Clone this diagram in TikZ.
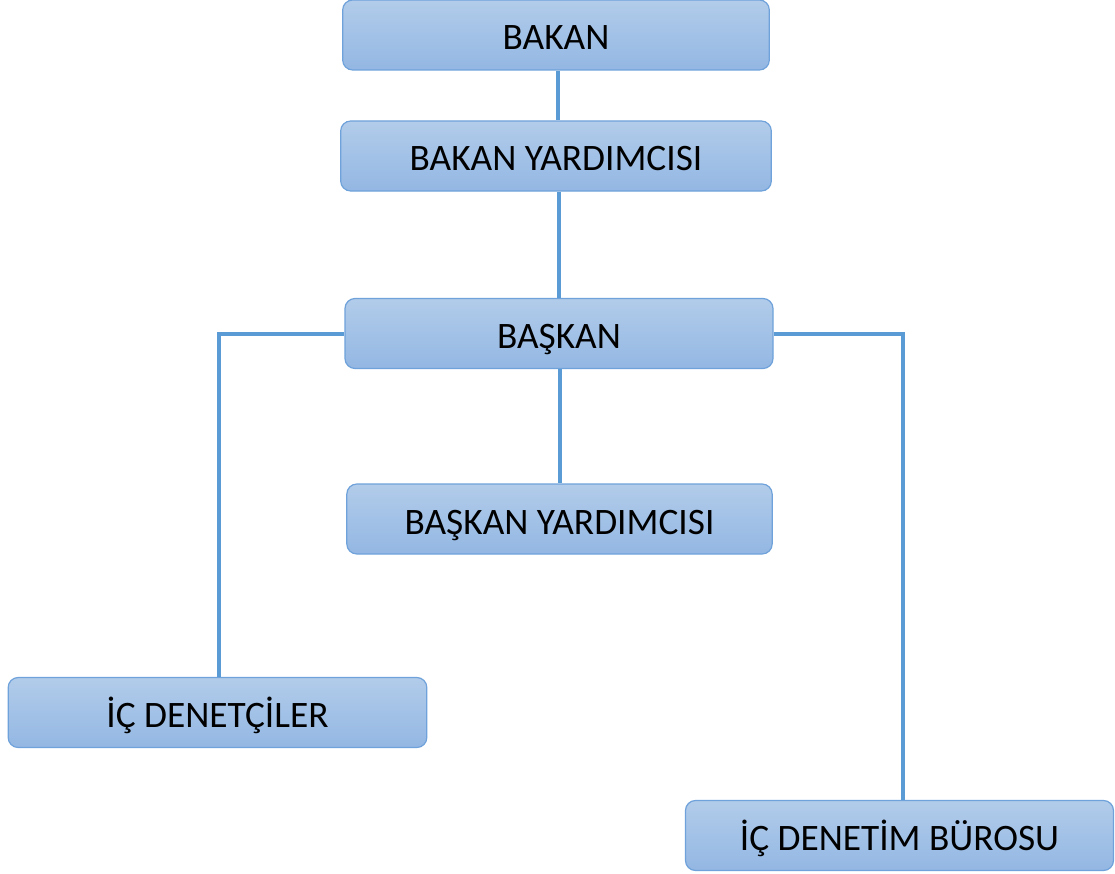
\documentclass[tikz,border=0pt]{standalone}
\usepackage{fontspec}
\setmainfont{Carlito}
\definecolor{boxtop}{HTML}{B2CCEA}
\definecolor{boxbottom}{HTML}{93B7E3}
\definecolor{boxline}{HTML}{6FA2DA}
\definecolor{linkcol}{HTML}{5B9BD5}
\tikzset{
  unit/.style={draw=boxline, line width=0.9pt, rounded corners=7.5pt,
    top color=boxtop, bottom color=boxbottom,
    minimum height=52.5pt, inner sep=0pt,
    text height=22.5pt, text depth=0pt,
    font=\fontsize{28}{33}\selectfont},
  link/.style={draw=linkcol, line width=3pt}
}
\begin{document}
\begin{tikzpicture}[x=0.75pt,y=-0.75pt]
  \useasboundingbox (0,0) rectangle (1115,874);
  % units
  \node[unit, minimum width=320pt] (bakan) at (556,35) {BAKAN};
  \node[unit, minimum width=323pt] (bakanyrd) at (556,156) {BAKAN YARDIMCISI};
  \node[unit, minimum width=321pt] (baskan) at (559,333.5) {BAŞKAN};
  \node[unit, minimum width=319pt] (baskanyrd) at (559.5,519) {BAŞKAN YARDIMCISI};
  \node[unit, minimum width=314pt] (denetci) at (217.5,712.5) {İÇ DENETÇİLER};
  \node[unit, minimum width=321pt] (buro) at (899.5,835.5) {İÇ DENETİM BÜROSU};
  % links
  \draw[link] (bakan.south -| 558,0) -- (bakanyrd.north -| 558,0);
  \draw[link] (bakanyrd.south -| 559,0) -- (baskan.north -| 559,0);
  \draw[link] (baskan.south -| 560,0) -- (baskanyrd.north -| 560,0);
  \draw[link] (baskan.west) -| (denetci.north -| 219,0);
  \draw[link] (baskan.east) -| (buro.north -| 903,0);
\end{tikzpicture}
\end{document}
